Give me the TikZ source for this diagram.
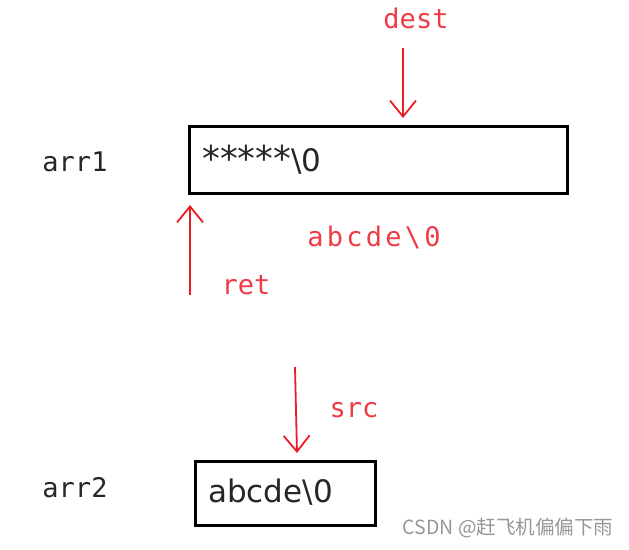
\documentclass[tikz,border=0pt]{standalone}
\usepackage{fontspec}
\usepackage{graphicx}
\setmainfont{DejaVu Sans}
\newfontfamily\labfont{DejaVu Sans Mono}
\newfontfamily\widelabfont[LetterSpace=12]{DejaVu Sans Mono}
\newfontfamily\cjkfont{Noto Sans CJK SC}
\usetikzlibrary{arrows.meta}
\definecolor{redline}{RGB}{236,28,36}
\definecolor{redtext}{RGB}{238,60,70}
\definecolor{wmgray}{RGB}{150,150,150}
\newcommand{\bigast}{\scalebox{1.15}{*}}
\tikzset{
  membox/.style={draw=black, line width=3pt, inner sep=0pt, anchor=north west},
  boxtext/.style={font=\fontsize{31}{34}\selectfont, inner sep=0pt, anchor=west, text=black!85},
  redlab/.style={font=\labfont\fontsize{27}{30}\selectfont, text=redtext, inner sep=0pt},
  blacklab/.style={font=\labfont\fontsize{27}{30}\selectfont, text=black!85, inner sep=0pt},
  ptr/.style={draw=redline, line width=1.8pt, -{Straight Barb[length=16pt,width=26pt,line width=1.8pt]}},
}
\begin{document}
\begin{tikzpicture}[x=1pt,y=-1pt]
\useasboundingbox (0,0) rectangle (629,549);
% boxes
\node[membox, minimum width=378pt, minimum height=67pt] (box1) at (188,125) {};
\node[membox, minimum width=180pt, minimum height=64pt] (box2) at (194,460) {};
\node[boxtext] (stars) at (202,160) {\bigast\bigast\bigast\bigast\bigast\textbackslash 0};
\node[boxtext] (src2) at (208,492) {abcde\textbackslash 0};
% labels
\node[blacklab] (l1) at (75,162) {arr1};
\node[blacklab] (l2) at (75,488) {arr2};
\node[redlab] (dest) at (416,18) {dest};
\node[redlab, font=\widelabfont\fontsize{27}{30}\selectfont] (copied) at (374,237) {abcde\textbackslash 0};
\node[redlab] (ret) at (246,285) {ret};
\node[redlab] (src) at (354,410) {src};
% arrow coordinates
\coordinate (d0) at (403,48);
\coordinate (d1) at (403,118);
\coordinate (r0) at (190,295);
\coordinate (r1) at (190,205);
\coordinate (s0) at (295,367);
\coordinate (s1) at (297,453);
\draw[ptr] (d0) -- (d1);
\draw[ptr] (r0) -- (r1);
\draw[ptr] (s0) -- (s1);
% watermark
\node[font=\cjkfont\fontsize{19.5}{22}\selectfont, text=wmgray, inner sep=0pt] (wm) at (508,528) {CSDN @赶飞机偏偏下雨};
\end{tikzpicture}
\end{document}
